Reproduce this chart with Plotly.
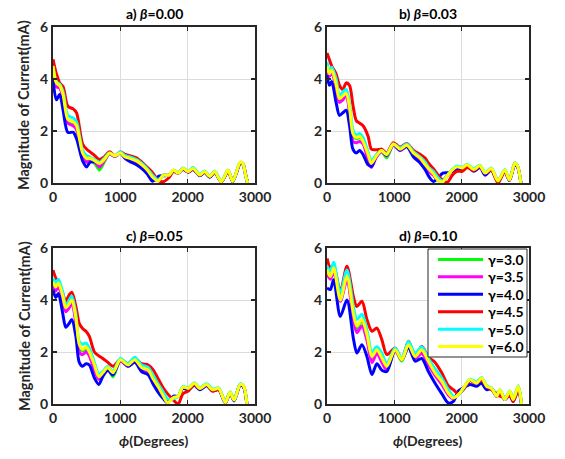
import plotly.graph_objects as go

# ---------------- data ----------------
gamma_labels = ["γ=3.0", "γ=3.5", "γ=4.0", "γ=4.5", "γ=5.0", "γ=6.0"]
line_colors = ["#00ff00", "#ff00ff", "#0000ff", "#ff0000", "#00ffff", "#ffff00"]
beta_labels = ["a) ", "b) ", "c) ", "d) "]
beta_values = ["0.00", "0.03", "0.05", "0.10"]
x_ticks = [0, 1000, 2000, 3000]
y_ticks = [0, 2, 4, 6]

# panel a  (beta = 0.00)
phi_a = [0, 50, 100, 150, 220, 300, 350, 440, 500, 550, 620, 690, 760, 840, 920, 1000, 1070, 1140, 1240, 1320,
         1400, 1480, 1560, 1640, 1720, 1790, 1860, 1930, 2010, 2080, 2180, 2250, 2330, 2400, 2500, 2600, 2670,
         2780, 2820, 2860, 2890]
a_green = [4.35, 3.75, 3.7, 3.3, 2.35, 2.25, 2.1, 1.05, 0.85, 0.85, 0.75, 0.5, 0.8, 1.12, 1.02, 1.15, 0.98, 0.9, 0.8, 0.67,
           0.47, 0.2, 0.1, 0.3, 0.3, 0.48, 0.38, 0.55, 0.43, 0.55, 0.3, 0.43, 0.24, 0.43, 0.05, 0.48, 0.06,
           0.78, 0.74, 0.3, 0]
a_magenta = [4.3, 3.7, 3.65, 3.2, 2.3, 2.2, 2.05, 1.0, 0.8, 0.85, 0.8, 0.62, 0.85, 1.12, 1.02, 1.15, 0.98, 0.9, 0.8, 0.65,
             0.45, 0.18, 0.1, 0.3, 0.3, 0.48, 0.38, 0.55, 0.43, 0.55, 0.3, 0.43, 0.24, 0.43, 0.05, 0.48, 0.06,
             0.78, 0.74, 0.3, 0]
a_blue = [4.0, 3.2, 3.4, 2.8, 1.95, 1.95, 1.7, 0.85, 0.62, 0.8, 0.82, 0.78, 0.95, 1.15, 1.05, 1.15, 0.95, 0.83, 0.7, 0.55,
          0.35, 0.07, 0.25, 0.28, 0.3, 0.45, 0.38, 0.52, 0.42, 0.52, 0.28, 0.4, 0.22, 0.4, 0.05, 0.45, 0.05,
          0.75, 0.72, 0.3, 0]
a_red = [4.76, 4.2, 3.85, 3.7, 2.95, 2.85, 2.7, 1.5, 1.3, 1.2, 1.05, 0.9, 1.0, 1.2, 1.05, 1.2, 1.1, 1.05, 0.97, 0.8,
         0.6, 0.4, 0.1, 0.05, 0.2, 0.45, 0.38, 0.55, 0.42, 0.55, 0.3, 0.42, 0.25, 0.42, 0.05, 0.45, 0.08,
         0.75, 0.75, 0.35, 0]
a_cyan = [4.5, 3.9, 3.8, 3.5, 2.6, 2.5, 2.35, 1.25, 1.05, 1.0, 0.9, 0.8, 0.95, 1.15, 1.05, 1.2, 1.05, 1.0, 0.9, 0.75,
          0.55, 0.3, 0.12, 0.3, 0.3, 0.5, 0.4, 0.58, 0.45, 0.6, 0.33, 0.46, 0.27, 0.46, 0.07, 0.5, 0.08,
          0.8, 0.75, 0.3, 0]
a_yellow = [4.5, 3.85, 3.75, 3.4, 2.45, 2.35, 2.2, 1.15, 0.95, 0.95, 0.85, 0.75, 0.9, 1.15, 1.05, 1.15, 1.0, 0.95, 0.85, 0.7,
            0.5, 0.22, 0.08, 0.3, 0.3, 0.5, 0.38, 0.56, 0.44, 0.56, 0.31, 0.44, 0.25, 0.44, 0.05, 0.5, 0.06,
            0.8, 0.75, 0.3, 0]

# panel b  (beta = 0.03)
phi_b = [0, 35, 70, 135, 185, 235, 285, 335, 385, 435, 485, 535, 610, 660, 735, 810, 885, 985, 1085, 1185, 1285,
         1385, 1460, 1510, 1580, 1650, 1720, 1790, 1860, 1930, 2010, 2080, 2180, 2270, 2350, 2440, 2540, 2640,
         2710, 2790, 2830, 2880]
b_green = [4.45, 4.15, 4.3, 3.75, 3.2, 3.3, 3.4, 2.8, 1.8, 1.7, 1.75, 1.55, 1.0, 0.75, 1.0, 1.2, 0.97, 1.45, 1.27, 1.42,
           1.12, 0.92, 0.68, 0.5, 0.32, 0.1, 0.08, 0.3, 0.48, 0.6, 0.56, 0.68, 0.5, 0.64, 0.36, 0.54, 0.07, 0.48,
           0.11, 0.76, 0.65, 0]
b_magenta = [4.4, 4.1, 4.25, 3.7, 3.1, 3.2, 3.35, 2.7, 1.6, 1.55, 1.6, 1.5, 0.9, 0.6, 1.0, 1.2, 1.05, 1.45, 1.25, 1.4,
             1.1, 0.9, 0.65, 0.45, 0.3, 0.1, 0.1, 0.3, 0.48, 0.6, 0.56, 0.68, 0.5, 0.64, 0.36, 0.54, 0.07, 0.48,
             0.11, 0.76, 0.65, 0]
b_blue = [4.15, 3.76, 3.9, 3.1, 2.6, 2.7, 2.8, 2.2, 1.3, 1.15, 1.25, 1.1, 0.7, 0.64, 1.07, 1.3, 1.07, 1.5, 1.26, 1.4,
          1.0, 0.76, 0.5, 0.26, 0.06, 0.2, 0.38, 0.4, 0.45, 0.55, 0.5, 0.65, 0.45, 0.6, 0.3, 0.5, 0.05, 0.45,
          0.1, 0.72, 0.62, 0]
b_red = [5.0, 4.75, 4.5, 4.2, 3.75, 3.6, 3.85, 3.75, 3.0, 2.4, 2.3, 2.2, 1.8, 1.3, 1.28, 1.3, 1.15, 1.55, 1.38, 1.52,
         1.25, 1.1, 0.95, 0.75, 0.55, 0.3, 0.1, 0.03, 0.3, 0.45, 0.45, 0.6, 0.48, 0.62, 0.38, 0.5, 0.0, 0.45,
         0.12, 0.75, 0.65, 0]
b_cyan = [4.65, 4.3, 4.45, 4.0, 3.35, 3.5, 3.6, 3.05, 2.05, 1.85, 1.9, 1.75, 1.2, 0.85, 1.1, 1.25, 1.1, 1.5, 1.35, 1.5,
          1.2, 1.0, 0.8, 0.6, 0.45, 0.2, 0.08, 0.3, 0.52, 0.65, 0.6, 0.72, 0.55, 0.68, 0.4, 0.58, 0.1, 0.52,
          0.14, 0.78, 0.67, 0]
b_yellow = [4.5, 4.2, 4.35, 3.8, 3.25, 3.35, 3.45, 2.9, 1.9, 1.75, 1.8, 1.6, 1.1, 0.75, 1.05, 1.25, 1.1, 1.5, 1.3, 1.45,
            1.15, 0.95, 0.7, 0.55, 0.35, 0.1, 0.05, 0.3, 0.5, 0.62, 0.58, 0.7, 0.52, 0.66, 0.38, 0.56, 0.08, 0.5,
            0.12, 0.77, 0.66, 0]

# panel c  (beta = 0.05)
phi_c = [0, 40, 80, 140, 190, 240, 280, 340, 390, 440, 490, 540, 615, 680, 740, 815, 890, 1000, 1115, 1215, 1315,
         1415, 1490, 1565, 1640, 1700, 1790, 1860, 1930, 2010, 2100, 2180, 2280, 2370, 2460, 2560, 2630, 2690,
         2780, 2830, 2880]
c_green = [4.65, 4.45, 4.6, 4.15, 3.65, 3.8, 3.95, 3.2, 2.2, 2.05, 2.1, 1.95, 1.45, 1.0, 1.15, 1.35, 1.05, 1.65, 1.47, 1.68,
           1.38, 1.28, 0.93, 0.62, 0.3, 0.08, 0.25, 0.3, 0.63, 0.58, 0.78, 0.58, 0.73, 0.53, 0.58, 0.05, 0.44, 0.14,
           0.74, 0.68, 0]
c_magenta = [4.55, 4.35, 4.5, 4.05, 3.55, 3.7, 3.85, 3.1, 2.0, 1.9, 2.0, 1.85, 1.3, 0.95, 1.15, 1.35, 1.15, 1.65, 1.45, 1.65,
             1.35, 1.25, 0.9, 0.6, 0.3, 0.1, 0.25, 0.3, 0.63, 0.58, 0.78, 0.58, 0.73, 0.53, 0.58, 0.05, 0.44, 0.14,
             0.74, 0.68, 0]
c_blue = [4.4, 4.1, 4.25, 3.55, 2.95, 3.1, 3.25, 2.6, 1.6, 1.45, 1.55, 1.5, 1.0, 0.75, 1.06, 1.3, 1.12, 1.7, 1.45, 1.6,
          1.25, 1.12, 0.75, 0.44, 0.2, 0.05, 0.3, 0.3, 0.6, 0.55, 0.72, 0.55, 0.7, 0.5, 0.55, 0.05, 0.42, 0.12,
          0.72, 0.65, 0]
c_red = [5.15, 4.85, 4.7, 4.3, 3.95, 4.2, 4.3, 3.75, 3.1, 2.9, 2.8, 2.6, 2.0, 1.85, 1.75, 1.6, 1.45, 1.7, 1.55, 1.75,
         1.55, 1.5, 1.3, 0.95, 0.6, 0.4, 0.15, 0.0, 0.4, 0.5, 0.75, 0.6, 0.75, 0.5, 0.55, 0.1, 0.42, 0.17,
         0.75, 0.68, 0]
c_cyan = [4.85, 4.65, 4.8, 4.35, 3.8, 4.0, 4.15, 3.45, 2.4, 2.3, 2.35, 2.15, 1.6, 1.15, 1.25, 1.45, 1.25, 1.75, 1.55, 1.8,
          1.5, 1.4, 1.1, 0.75, 0.45, 0.2, 0.2, 0.3, 0.67, 0.62, 0.82, 0.62, 0.78, 0.58, 0.62, 0.08, 0.47, 0.17,
          0.77, 0.7, 0]
c_yellow = [4.7, 4.5, 4.65, 4.2, 3.7, 3.85, 4.0, 3.3, 2.3, 2.1, 2.2, 2.0, 1.5, 1.05, 1.2, 1.4, 1.2, 1.7, 1.5, 1.7,
            1.4, 1.3, 0.95, 0.65, 0.3, 0.05, 0.25, 0.3, 0.65, 0.6, 0.8, 0.6, 0.75, 0.55, 0.6, 0.05, 0.45, 0.15,
            0.75, 0.7, 0]

# panel d  (beta = 0.10)
phi_d = [0, 49, 99, 198, 296, 395, 444, 519, 593, 667, 741, 815, 889, 1012, 1111, 1210, 1309, 1407, 1506, 1605,
         1704, 1802, 1877, 1951, 2025, 2123, 2222, 2296, 2370, 2444, 2519, 2568, 2642, 2716, 2765, 2840, 2889]
d_green = [5.1, 4.85, 5.15, 4.0, 4.85, 3.35, 2.9, 3.2, 2.6, 1.8, 2.05, 1.75, 1.4, 2.05, 1.65, 2.25, 1.8, 2.05, 1.6, 1.15,
           0.82, 0.4, 0.22, 0.38, 0.6, 0.92, 0.8, 0.98, 0.66, 0.59, 0.3, 0.53, 0.17, 0.48, 0.16, 0.66, 0]
d_magenta = [5.0, 4.8, 5.1, 3.95, 4.75, 3.2, 2.75, 3.0, 2.45, 1.6, 1.95, 1.6, 1.3, 2.05, 1.7, 2.2, 1.75, 1.95, 1.5, 1.1,
             0.75, 0.35, 0.2, 0.4, 0.6, 0.9, 0.78, 0.95, 0.65, 0.58, 0.3, 0.52, 0.17, 0.47, 0.15, 0.65, 0]
d_blue = [4.46, 4.4, 4.78, 3.37, 4.0, 2.47, 1.96, 2.28, 1.83, 1.13, 1.55, 1.3, 1.25, 2.1, 1.72, 2.19, 1.65, 1.75, 1.25, 0.8,
          0.4, 0.04, 0.1, 0.5, 0.62, 0.75, 0.68, 0.8, 0.55, 0.6, 0.3, 0.49, 0.17, 0.36, 0.1, 0.55, 0]
d_red = [5.6, 5.25, 5.3, 4.33, 5.3, 4.1, 3.75, 3.95, 3.25, 2.8, 2.92, 2.47, 1.9, 2.15, 1.7, 2.41, 1.83, 2.22, 1.8, 1.6,
         1.2, 0.7, 0.55, 0.4, 0.55, 0.9, 0.8, 0.93, 0.68, 0.55, 0.4, 0.3, 0.25, 0.3, 0.1, 0.55, 0]
d_cyan = [5.3, 5.1, 5.45, 4.25, 5.15, 3.7, 3.25, 3.45, 2.85, 2.0, 2.2, 1.95, 1.55, 2.15, 1.75, 2.4, 1.95, 2.2, 1.75, 1.35,
          1.0, 0.55, 0.3, 0.35, 0.6, 0.95, 0.85, 1.02, 0.7, 0.62, 0.32, 0.55, 0.2, 0.5, 0.18, 0.7, 0]
d_yellow = [5.17, 4.9, 5.23, 4.0, 4.9, 3.44, 3.0, 3.25, 2.67, 1.83, 2.09, 1.77, 1.45, 2.09, 1.7, 2.28, 1.83, 2.09, 1.64, 1.19,
            0.87, 0.42, 0.23, 0.36, 0.62, 0.93, 0.8, 1.0, 0.68, 0.6, 0.3, 0.55, 0.17, 0.49, 0.17, 0.68, 0]

panels = [
    (phi_a, [a_green, a_magenta, a_blue, a_red, a_cyan, a_yellow]),
    (phi_b, [b_green, b_magenta, b_blue, b_red, b_cyan, b_yellow]),
    (phi_c, [c_green, c_magenta, c_blue, c_red, c_cyan, c_yellow]),
    (phi_d, [d_green, d_magenta, d_blue, d_red, d_cyan, d_yellow]),
]

# ---------------- layout (pixel geometry) ----------------
W, H = 565, 459
boxes = [((53, 255), (27, 183)), ((327, 529), (27, 183)),
         ((53, 255), (248, 404)), ((327, 529), (248, 404))]
FONT = "Lato"
AXC = "#262626"

fig = go.Figure()
for i, (phi, series) in enumerate(panels):
    k = "" if i == 0 else str(i + 1)
    for name, col, ys in zip(gamma_labels, line_colors, series):
        assert len(ys) == len(phi), (i, name, len(ys), len(phi))
        fig.add_trace(go.Scatter(
            x=phi, y=ys, mode="lines", name=name,
            line=dict(color=col, width=3, shape="spline", smoothing=0.8),
            showlegend=False, xaxis="x" + k, yaxis="y" + k, hoverinfo="skip"))

layout = dict(
    width=W, height=H, margin=dict(l=0, r=0, t=0, b=0, autoexpand=False),
    paper_bgcolor="white", plot_bgcolor="white", showlegend=False,
    font=dict(family=FONT, size=14, color="black"),
)
annotations = []
shapes = []
for i, ((x0, x1), (y0, y1)) in enumerate(boxes):
    k = "" if i == 0 else str(i + 1)
    common = dict(showgrid=True, gridcolor="#dcdcdc", gridwidth=1, zeroline=False,
                  showline=True, linecolor=AXC, linewidth=2, mirror="ticks",
                  ticks="inside", ticklen=4, tickwidth=1.5, tickcolor=AXC, automargin=False,
                  tickfont=dict(family=FONT, size=14, color=AXC, weight="bold"))
    layout["xaxis" + k] = dict(domain=[x0 / W, x1 / W], anchor="y" + k, range=[0, 3000],
                               tickvals=x_ticks, **common)
    layout["yaxis" + k] = dict(domain=[1 - y1 / H, 1 - y0 / H], anchor="x" + k, range=[0, 6],
                               tickvals=y_ticks, **common)
    cx = (x0 + x1) / 2
    annotations.append(dict(
        text="<b>" + beta_labels[i] + "<i>β</i>=" + beta_values[i] + "</b>",
        x=cx / W, y=1 - (y0 - 13) / H, xref="paper", yref="paper",
        xanchor="center", yanchor="middle", showarrow=False,
        font=dict(family=FONT, size=14, color="black")))
    if i in (0, 2):
        annotations.append(dict(
            text="<b>Magnitude of Current(mA)</b>", textangle=-90,
            x=24 / W, y=1 - ((y0 + y1) / 2) / H, xref="paper", yref="paper",
            xanchor="center", yanchor="middle", showarrow=False,
            font=dict(family=FONT, size=14.5, color=AXC)))
    if i in (2, 3):
        annotations.append(dict(
            text="<b><i>ϕ</i>(Degrees)</b>",
            x=cx / W, y=1 - 440 / H, xref="paper", yref="paper",
            xanchor="center", yanchor="middle", showarrow=False,
            font=dict(family=FONT, size=14, color=AXC)))

# legend box drawn in panel d (upper right)
LX0, LX1, LY0, LY1 = 428, 527, 249, 357
shapes.append(dict(type="rect", xref="paper", yref="paper",
                   x0=LX0 / W, x1=LX1 / W, y0=1 - LY1 / H, y1=1 - LY0 / H,
                   line=dict(color=AXC, width=1), fillcolor="white", layer="above"))
row_h = (LY1 - LY0) / 6.2
for j, (name, col) in enumerate(zip(gamma_labels, line_colors)):
    yc = LY0 + row_h * (j + 0.6)
    shapes.append(dict(type="line", xref="paper", yref="paper",
                       x0=438 / W, x1=483 / W, y0=1 - yc / H, y1=1 - yc / H,
                       line=dict(color=col, width=3), layer="above"))
    annotations.append(dict(
        text="<b>" + name + "</b>", x=486 / W, y=1 - yc / H, xref="paper", yref="paper",
        xanchor="left", yanchor="middle", showarrow=False,
        font=dict(family=FONT, size=14, color="black")))
layout["annotations"] = annotations
layout["shapes"] = shapes
fig.update_layout(**layout)
fig.write_html("out.html", config={"displayModeBar": False, "staticPlot": True},
               post_script="document.body.style.margin='0';document.body.style.padding='0';")
